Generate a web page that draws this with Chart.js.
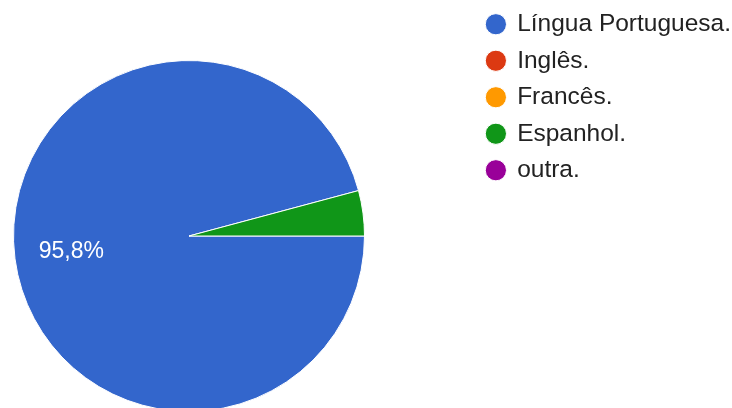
<!DOCTYPE html>
<html>
<head>
<meta charset="utf-8">
<script src="https://cdn.jsdelivr.net/npm/chart.js@4"></script>
<style>
  html, body { margin: 0; padding: 0; background: #fff; overflow: hidden; }
  canvas { display: block; }
</style>
</head>
<body>
<canvas id="idiomaChart" width="732" height="408"></canvas>
<script>
// Respostas
const labels = ['Língua Portuguesa.', 'Inglês.', 'Francês.', 'Espanhol.', 'outra.'];
const respostas = [23, 0, 0, 1, 0];
const cores = ['#3366cc', '#dc3912', '#ff9900', '#109618', '#990099'];

const FONT = '"Liberation Sans", Arial, sans-serif';

// Pie area is fixed so the legend doesn't push it around
const pieArea = {
  afterLayout(chart) {
    const cx = 189, cy = 236, r = 176;
    chart.chartArea = {
      left: cx - r, right: cx + r, top: cy - r, bottom: cy + r,
      width: 2 * r, height: 2 * r
    };
  }
};

// Percent labels inside slices (small slices stay blank)
const sliceLabels = {
  afterDatasetsDraw(chart) {
    const ctx = chart.ctx;
    const meta = chart.getDatasetMeta(0);
    const total = respostas.reduce((a, b) => a + b, 0);
    ctx.save();
    ctx.font = '23px ' + FONT;
    ctx.fillStyle = '#ffffff';
    ctx.textAlign = 'center';
    ctx.textBaseline = 'middle';
    meta.data.forEach((arc, i) => {
      const pct = respostas[i] / total * 100;
      if (pct < 5) return;
      const p = arc.getProps(['x', 'y', 'startAngle', 'endAngle', 'outerRadius'], true);
      const mid = (p.startAngle + p.endAngle) / 2;
      const d = p.outerRadius * 0.676;
      ctx.fillText(pct.toFixed(1).replace('.', ',') + '%', p.x + Math.cos(mid) * d, p.y + Math.sin(mid) * d);
    });
    ctx.restore();
  }
};

new Chart(document.getElementById('idiomaChart'), {
  type: 'pie',
  data: {
    labels: labels,
    datasets: [{
      data: respostas,
      backgroundColor: cores,
      borderColor: '#ffffff',
      borderWidth: 1
    }]
  },
  options: {
    responsive: false,
    animation: false,
    devicePixelRatio: 1,
    rotation: 90,
    layout: { padding: { top: 0, right: -9, bottom: 0, left: 0 } },
    plugins: {
      legend: {
        position: 'right',
        align: 'start',
        labels: {
          usePointStyle: true,
          pointStyle: 'circle',
          boxWidth: 18,
          boxHeight: 15,
          padding: 12,
          color: '#222222',
          font: { family: FONT, size: 24.5 }
        }
      },
      tooltip: { enabled: false }
    }
  },
  plugins: [pieArea, sliceLabels]
});
</script>
</body>
</html>
